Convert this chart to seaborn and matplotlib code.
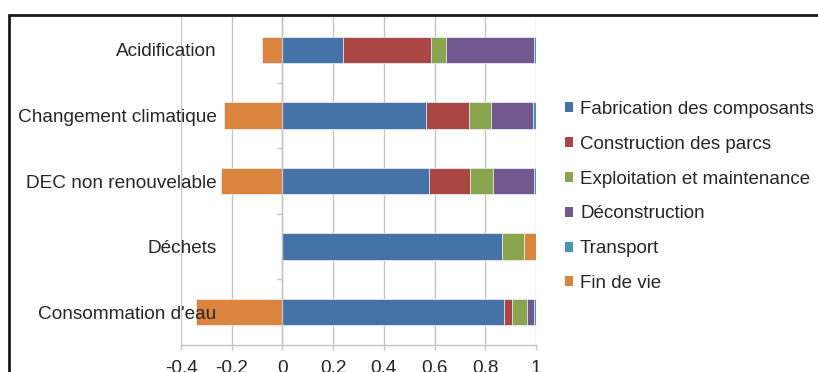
import numpy as np
import pandas as pd
import matplotlib
matplotlib.use("Agg")
import matplotlib.pyplot as plt
import seaborn as sns
from matplotlib.patches import Rectangle, Patch

categories = ["Acidification", "Changement climatique", "DEC non renouvelable",
              "Déchets", "Consommation d'eau"]
series_names = ["Fabrication des composants", "Construction des parcs",
                "Exploitation et maintenance", "Déconstruction", "Transport",
                "Fin de vie"]
fabrication = [0.237, 0.566, 0.579, 0.867, 0.875]
construction = [0.347, 0.169, 0.160, 0.0, 0.030]
exploitation = [0.061, 0.086, 0.090, 0.087, 0.058]
deconstruction = [0.348, 0.168, 0.163, 0.0, 0.029]
transport = [0.007, 0.011, 0.008, 0.0, 0.008]
fin_de_vie = [-0.080, -0.231, -0.241, 0.046, -0.342]
x_ticks = [-0.4, -0.2, 0, 0.2, 0.4, 0.6, 0.8, 1]
x_tick_labels = ["-0.4", "-0.2", "0", "0.2", "0.4", "0.6", "0.8", "1"]

colors = ["#4572A7", "#AA4643", "#89A54E", "#71588F", "#4198AF", "#DB843D"]

sns.set_theme(style="white")
plt.rcParams['font.family'] = ['Liberation Sans', 'DejaVu Sans']
plt.rcParams['axes.axisbelow'] = False
FS = 13.7
FS_LEG = 13.5
TXT = "#262626"
GRID = "#c4c4c4"

W, H = 818, 372
fig = plt.figure(figsize=(W / 100, H / 100), dpi=100)
ax = fig.add_axes([181 / W, 1 - 345 / H, (536 - 181) / W, (345 - 17) / H])

series = np.array([fabrication, construction, exploitation, deconstruction,
                   transport, fin_de_vie])
pos = np.clip(series, 0, None)
neg = np.clip(series, None, 0)
cum = np.cumsum(pos, axis=0)

edge = "#e6ecf5"
# Positive stack: draw from outermost cumulative to innermost
for i in range(len(series_names) - 1, -1, -1):
    df = pd.DataFrame({"cat": categories, "val": cum[i]})
    sns.barplot(data=df, x="val", y="cat", orient="h", color=colors[i],
                saturation=1, width=0.4, ax=ax, edgecolor=edge, linewidth=0.6,
                errorbar=None)
# Negative part (Fin de vie)
df = pd.DataFrame({"cat": categories, "val": neg[-1]})
sns.barplot(data=df, x="val", y="cat", orient="h", color=colors[-1],
            saturation=1, width=0.4, ax=ax, edgecolor=edge, linewidth=0.6,
            errorbar=None)

ax.set_axisbelow(False)
ax.set_xlim(-0.4, 1.0)
ax.set_ylim(len(categories) - 0.5, -0.5)
ax.set_xlabel("")
ax.set_ylabel("")

for xv in x_ticks:
    ax.axvline(xv, color=GRID, lw=1, zorder=0)

ax.set_xticks(x_ticks)
ax.set_xticklabels(x_tick_labels)
ax.tick_params(axis="x", direction="out", length=3.6, width=1, color=GRID,
               pad=7, labelsize=FS, labelcolor=TXT, bottom=True)

ax.spines["left"].set_position(("data", 0))
for s in ["top", "right"]:
    ax.spines[s].set_visible(False)
ax.spines["left"].set_color(GRID)
ax.spines["bottom"].set_color(GRID)
ax.spines["left"].set_linewidth(1)
ax.spines["bottom"].set_linewidth(1)

ax.set_yticks(range(len(categories)))
ax.set_yticklabels(categories)
ax.set_yticks(np.arange(0.5, len(categories) - 1, 1.0), minor=True)
ax.tick_params(axis="y", which="major", length=0, pad=47.3, labelsize=FS,
               labelcolor=TXT, left=True)
ax.tick_params(axis="y", which="minor", length=3.6, width=1, color=GRID,
               direction="out", left=True)

handles = [Patch(facecolor=c, edgecolor="none") for c in colors]
fig.legend(handles, series_names, loc="upper left",
           bbox_to_anchor=(565 / W, 1 - 101 / H), frameon=False,
           fontsize=FS_LEG, labelcolor=TXT, handlelength=0.45, handleheight=0.45,
           handletextpad=0.35, labelspacing=0.95, borderaxespad=0, borderpad=0)

fig.add_artist(Rectangle((8.5 / W, -0.2), 1.2, 1.2 - 15 / H,
                         transform=fig.transFigure, fill=False,
                         edgecolor="#1a1a1a", lw=2, clip_on=False))

fig.savefig("out.png", dpi=100, facecolor="white")
